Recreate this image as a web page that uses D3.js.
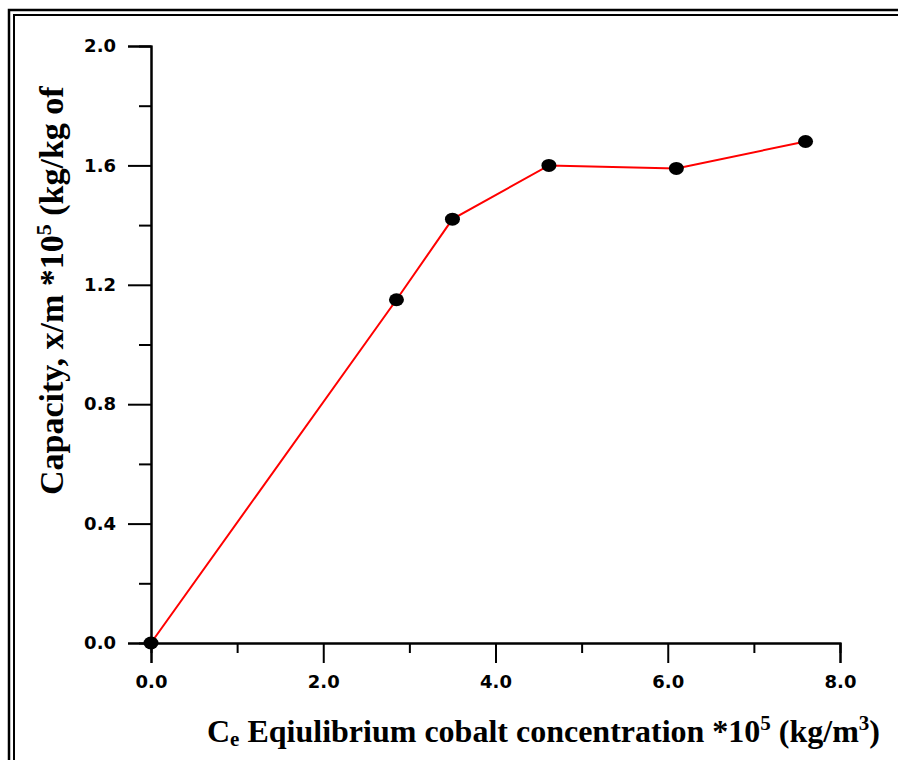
<!DOCTYPE html>
<html>
<head>
<meta charset="utf-8">
<script src="https://cdnjs.cloudflare.com/ajax/libs/d3/7.8.5/d3.min.js"></script>
<style>
  body { margin: 0; background: #fff; }
  .tick text { font-family: "DejaVu Sans", Verdana, sans-serif; font-weight: bold; font-size: 18px; fill: #000; }
  .title { font-family: "Times New Roman", "Liberation Serif", serif; font-weight: bold; fill: #000; }
</style>
</head>
<body>
<div id="chart"></div>
<script>
// Ce vs capacity
const ceValues = [0, 2.85, 3.5, 4.62, 6.1, 7.6],
  capValues = [0, 1.15, 1.42, 1.6, 1.59, 1.68];

const xTicks = [0, 2, 4, 6, 8],
  yTicks = [0, 0.4, 0.8, 1.2, 1.6, 2.0];

const width = 898,
  height = 760;

const svg = d3
  .select("#chart")
  .append("svg")
  .attr("width", width)
  .attr("height", height);

// double frame (cut off at right / bottom)
svg.append("rect")
  .attr("x", 9).attr("y", 10)
  .attr("width", width + 20).attr("height", height + 20)
  .attr("fill", "none").attr("stroke", "#000").attr("stroke-width", 2.5);
svg.append("rect")
  .attr("x", 14).attr("y", 15)
  .attr("width", width + 20).attr("height", height + 20)
  .attr("fill", "none").attr("stroke", "#000").attr("stroke-width", 2);

const x = d3.scaleLinear().domain([0, 8]).range([151, 840]),
  y = d3.scaleLinear().domain([0, 2]).range([643, 46]);

// major ticks
const xAxis = d3.axisBottom(x)
  .tickValues(xTicks)
  .tickSize(20)
  .tickPadding(12)
  .tickFormat(d3.format(".1f"));

const yAxis = d3.axisLeft(y)
  .tickValues(yTicks)
  .tickSize(23)
  .tickPadding(12)
  .tickFormat(d3.format(".1f"));

// minor ticks
const xMinor = d3.axisBottom(x)
  .tickValues([1, 3, 5, 7])
  .tickSize(10)
  .tickFormat("");

const yMinor = d3.axisLeft(y)
  .tickValues([0.2, 0.6, 1.0, 1.4, 1.8])
  .tickSize(12)
  .tickFormat("");

function styleAxis(g) {
  g.select(".domain").attr("stroke-width", 2).attr("stroke", "#000");
  g.selectAll(".tick line").attr("stroke-width", 2).attr("stroke", "#000");
}

svg.append("g").attr("transform", "translate(0,643)").call(xMinor).call(styleAxis);
svg.append("g").attr("transform", "translate(151,0)").call(yMinor).call(styleAxis);
svg.append("g").attr("transform", "translate(0,643)").call(xAxis).call(styleAxis);
svg.append("g").attr("transform", "translate(151,0)").call(yAxis).call(styleAxis);

const pts = ceValues.map((c, i) => ({ c: c, q: capValues[i] }));

const line = d3.line()
  .x(d => x(d.c))
  .y(d => y(d.q));

svg.append("path")
  .datum(pts)
  .attr("d", line)
  .attr("fill", "none")
  .attr("stroke", "#ff0000")
  .attr("stroke-width", 2);

svg.append("g")
  .selectAll("ellipse")
  .data(pts)
  .join("ellipse")
  .attr("cx", d => x(d.c))
  .attr("cy", d => y(d.q))
  .attr("rx", 7.5)
  .attr("ry", 6.5)
  .attr("fill", "#000");

// axis titles
const xt = svg.append("text")
  .attr("class", "title")
  .attr("font-size", "32px")
  .attr("x", 207)
  .attr("y", 742);
xt.append("tspan").text("C");
xt.append("tspan").attr("font-size", "21px").attr("dy", 4).text("e");
xt.append("tspan").attr("dy", -4).text(" Eqiulibrium cobalt concentration *10");
xt.append("tspan").attr("font-size", "21px").attr("dy", -12).text("5");
xt.append("tspan").attr("dy", 12).text(" (kg/m");
xt.append("tspan").attr("font-size", "21px").attr("dy", -12).text("3");
xt.append("tspan").attr("dy", 12).text(")");

const yt = svg.append("text")
  .attr("class", "title")
  .attr("font-size", "34px")
  .attr("transform", "translate(63,495) rotate(-90)");
yt.append("tspan").text("Capacity, x/m *10");
yt.append("tspan").attr("font-size", "22px").attr("dy", -12).text("5");
yt.append("tspan").attr("dy", 12).text(" (kg/kg of");
</script>
</body>
</html>
